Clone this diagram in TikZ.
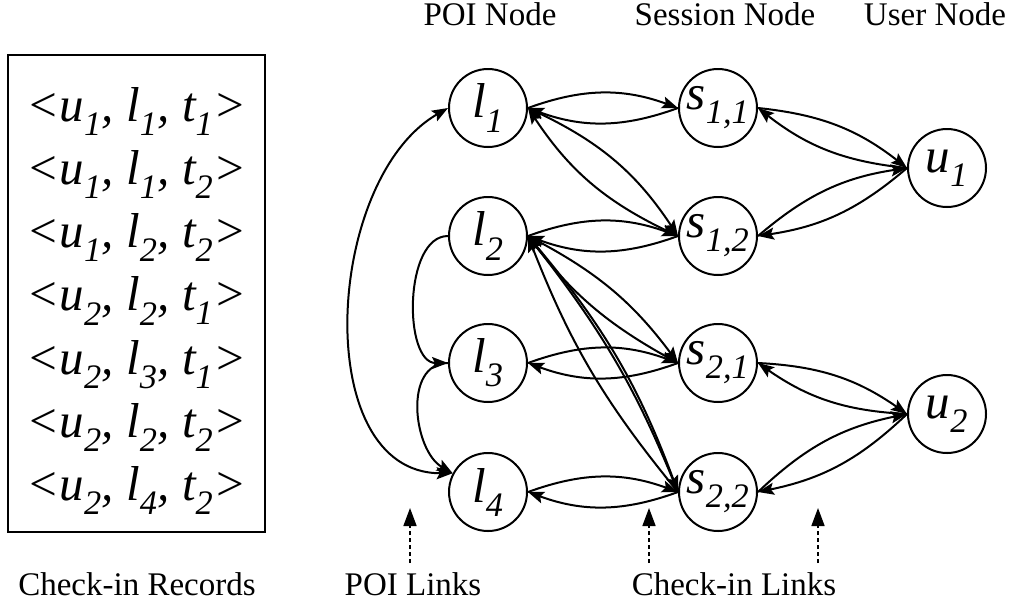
\documentclass[tikz,border=0pt]{standalone}
\usepackage{fontspec}
\setmainfont{Liberation Serif}
\usetikzlibrary{arrows.meta}

\begin{document}
\begin{tikzpicture}[x=1pt,y=1pt,
  vert/.style={circle, draw, line width=2pt, minimum size=78pt, inner sep=0pt,
    font=\fontsize{49}{49}\selectfont\itshape},
  tip/.style={Stealth[length=16pt,width=12pt,inset=3pt]},
  link/.style={line width=2pt, -{Stealth[length=16pt,width=12pt,inset=3pt]}},
  twoway/.style={line width=2pt, {Stealth[length=16pt,width=12pt,inset=3pt]}-{Stealth[length=16pt,width=12pt,inset=3pt]}},
  pointer/.style={line width=1.6pt, dash pattern=on 4pt off 3pt, -{Triangle[length=18pt,width=13pt]}},
  caption/.style={anchor=base, font=\fontsize{33}{33}\selectfont},
  record/.style={anchor=base, font=\fontsize{49}{49}\selectfont\itshape}
]
\useasboundingbox (0,0) rectangle (1022,-614);

% check-in records
\node[draw, line width=1.8pt, minimum width=257pt, minimum height=477pt, inner sep=0pt]
  (records) at (136.5,-293.5) {};
\foreach \i/\u/\l/\t in {1/1/1/1, 2/1/1/2, 3/1/2/2, 4/2/2/1, 5/2/3/1, 6/2/2/2, 7/2/4/2}
  \node[record] (r\i) at (136.5,{-121-63.3*(\i-1)})
    {<u\textsubscript{\u}, l\textsubscript{\l}, t\textsubscript{\t}>};

% column headings
\node[caption] (hpoi) at (490,-25) {POI Node};
\node[caption] (hses) at (725,-25) {Session Node};
\node[caption] (husr) at (935,-25) {User Node};

% POI nodes
\node[vert] (l1) at (488,-108) {l\textsubscript{1}};
\node[vert] (l2) at (488,-236) {l\textsubscript{2}};
\node[vert] (l3) at (488,-363) {l\textsubscript{3}};
\node[vert] (l4) at (488,-492) {l\textsubscript{4}};

% session nodes
\node[vert] (s11) at (718,-108) {s\textsubscript{1,1}};
\node[vert] (s12) at (718,-236) {s\textsubscript{1,2}};
\node[vert] (s21) at (718,-363) {s\textsubscript{2,1}};
\node[vert] (s22) at (718,-492) {s\textsubscript{2,2}};

% user nodes
\node[vert] (u1) at (947,-168) {u\textsubscript{1}};
\node[vert] (u2) at (947,-414) {u\textsubscript{2}};

% POI links
\draw[twoway] (l1.west) to[out=210, in=180, looseness=1] (l4.152);
\draw[link] (l2.west) to[out=180, in=180, looseness=0.9] (l3.west);
\draw[link] (l3.west) to[out=180, in=150, looseness=1.05] (l4.152);

% check-in links between POIs and sessions
\draw[link] (l1.east) to[bend left=20] (s11.west);
\draw[link] (s11.west) to[bend left=20] (l1.east);
\draw[link] (l1.east) to[bend left=16] (s12.west);
\draw[link] (s12.west) to[bend left=16] (l1.east);
\draw[link] (l2.east) to[bend left=20] (s12.west);
\draw[link] (s12.west) to[bend left=20] (l2.east);
\draw[link] (l2.east) to[bend left=13] (s21.west);
\draw[link] (s21.west) to[bend left=12] (l2.east);
\draw[link] (l3.east) to[bend left=20] (s21.west);
\draw[link] (s21.west) to[bend left=20] (l3.east);
\draw[link] (l2.east) to[bend left=8] (s22.west);
\draw[link] (l2.east) to[bend left=10] (s22.west);
\draw[link] (s22.west) to[bend left=9] (l2.east);
\draw[link] (l4.east) to[bend left=20] (s22.west);
\draw[link] (s22.west) to[bend left=20] (l4.east);

% check-in links between sessions and users
\draw[link] (s11.east) to[bend left=16] (u1.west);
\draw[link] (u1.west) to[bend left=16] (s11.east);
\draw[link] (s12.east) to[bend left=16] (u1.west);
\draw[link] (u1.west) to[bend left=16] (s12.east);
\draw[link] (s21.east) to[bend left=16] (u2.west);
\draw[link] (u2.west) to[bend left=16] (s21.east);
\draw[link] (s22.east) to[bend left=16] (u2.west);
\draw[link] (u2.west) to[bend left=16] (s22.east);

% pointers to the link kinds
\coordinate (p1a) at (410,-563); \coordinate (p1b) at (410,-508);
\coordinate (p2a) at (649,-563); \coordinate (p2b) at (649,-508);
\coordinate (p3a) at (818,-563); \coordinate (p3b) at (818,-508);
\draw[pointer] (p1a) -- (p1b);
\draw[pointer] (p2a) -- (p2b);
\draw[pointer] (p3a) -- (p3b);

% captions below
\node[caption] (crec) at (137,-595) {Check-in Records};
\node[caption] (cpoi) at (413,-595) {POI Links};
\node[caption] (cchk) at (734,-595) {Check-in Links};
\end{tikzpicture}
\end{document}
